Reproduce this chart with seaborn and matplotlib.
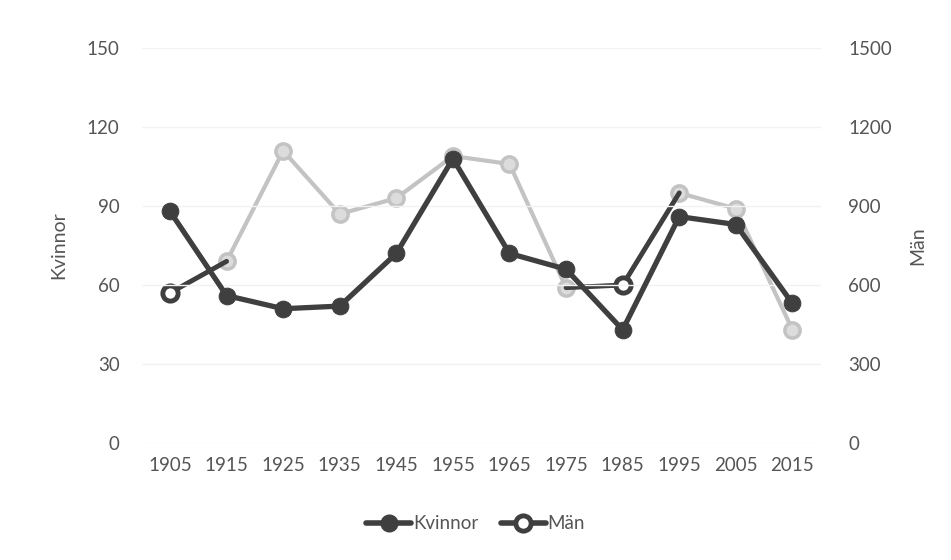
import matplotlib
matplotlib.use("Agg")
from matplotlib import pyplot as plt
from matplotlib.lines import Line2D
import pandas as pd
import seaborn as sns

years = [1905, 1915, 1925, 1935, 1945, 1955, 1965, 1975, 1985, 1995, 2005, 2015]
kvinnor = [88, 56, 51, 52, 72, 108, 72, 66, 43, 86, 83, 53]
man = [570, 690, 1110, 870, 930, 1090, 1060, 590, 600, 950, 890, 430]
left_ticks = [0, 30, 60, 90, 120, 150]
right_ticks = [0, 300, 600, 900, 1200, 1500]

dark = "#3f3f3f"
light = "#c3c3c3"
text_col = "#555555"

sns.set_theme(style="white")
plt.rcParams["font.family"] = ["Lato", "DejaVu Sans"]

df = pd.DataFrame({"year": years, "Kvinnor": kvinnor, "Män": man})

fig = plt.figure(figsize=(9.51, 5.6), dpi=100)
ax = fig.add_axes([0.149, 0.209, 0.714, 0.705])
ax2 = ax.twinx()

# Män on the right axis (light grey in the scan, a few segments printed dark)
sns.lineplot(data=df, x="year", y="Män", ax=ax2, color=light, linewidth=3,
             marker="o", markersize=11, markerfacecolor="#dcdcdc",
             markeredgecolor=light, markeredgewidth=2.5)
for sub in [df.iloc[0:2], df.iloc[7:10]]:
    ax2.plot(sub["year"].to_numpy(), sub["Män"].to_numpy(), color=dark,
             linewidth=3.5, zorder=5, solid_capstyle="round")
for i in [0, 8]:
    ax2.plot([years[i]], [man[i]], "o", markersize=11, markerfacecolor="white",
             markeredgecolor=dark, markeredgewidth=3.5, zorder=6)

# Kvinnor on the left axis
sns.lineplot(data=df, x="year", y="Kvinnor", ax=ax, color=dark, linewidth=3.8,
             marker="o", markersize=12, markerfacecolor=dark, markeredgecolor=dark)

ax.set_zorder(ax2.get_zorder() + 1)
ax.patch.set_visible(False)

ax.set_xlim(1900, 2020)
ax.set_ylim(0, 150)
ax2.set_ylim(0, 1500)
ax.set_xticks(years)
ax.set_yticks(left_ticks)
ax2.set_yticks(right_ticks)

for a in (ax, ax2):
    for s in a.spines.values():
        s.set_visible(False)
    a.grid(False)
ax.yaxis.grid(True, color="#f2f2f2", linewidth=1)

ax.tick_params(axis="y", length=0, pad=16, labelsize=13.5, labelcolor=text_col)
ax.tick_params(axis="x", length=0, pad=10, labelsize=13.5, labelcolor=text_col)
ax2.tick_params(axis="y", length=0, pad=20, labelsize=13.5, labelcolor=text_col)

ax.set_xlabel("")
ax.set_ylabel("Kvinnor", fontsize=14, color=text_col, labelpad=14)
ax2.set_ylabel("Män", fontsize=14, color=text_col, labelpad=12)

handles = [
    Line2D([], [], color=dark, linewidth=4, marker="o", markersize=12,
           markerfacecolor=dark, markeredgecolor=dark),
    Line2D([], [], color=dark, linewidth=4, marker="o", markersize=11,
           markerfacecolor="white", markeredgecolor=dark, markeredgewidth=3.5),
]
leg = fig.legend(handles, ["Kvinnor", "Män"], loc="center", bbox_to_anchor=(0.5, 0.065),
                 ncol=2, frameon=False, fontsize=13.5, handlelength=2.4,
                 handletextpad=0.1, columnspacing=1.2)
for t in leg.get_texts():
    t.set_color(text_col)

fig.savefig("out.png", dpi=100)
